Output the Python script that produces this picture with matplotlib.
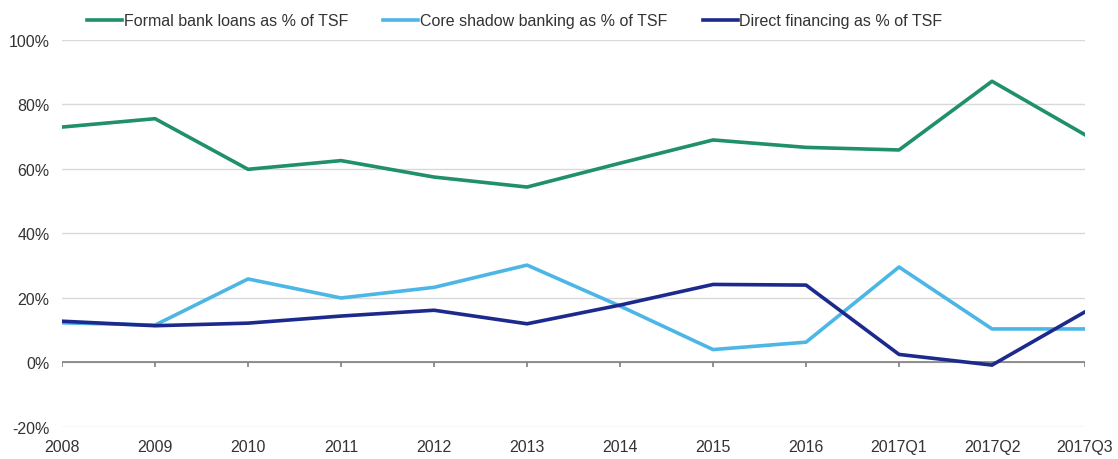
import numpy as np
import matplotlib.pyplot as plt
from matplotlib.ticker import FuncFormatter

plt.rcParams['font.family'] = ['Liberation Sans', 'DejaVu Sans']

periods = ['2008', '2009', '2010', '2011', '2012', '2013', '2014', '2015', '2016',
           '2017Q1', '2017Q2', '2017Q3']

# shares of total social financing, in %
bank_loans = [73.0, 75.6, 59.9, 62.6, 57.5, 54.4, 61.8, 69.0, 66.7, 65.9, 87.2, 70.6]
shadow_banking = [12.3, 11.6, 25.9, 20.0, 23.3, 30.2, 17.5, 4.0, 6.3, 29.6, 10.4, 10.4]
direct_financing = [12.8, 11.4, 12.2, 14.4, 16.2, 12.0, 17.8, 24.2, 24.0, 2.5, -0.8, 15.7]

green = '#1f9068'
light_blue = '#4cb6e6'
navy = '#1b2a8c'

fig = plt.figure(figsize=(11.18, 4.6), dpi=100)
ax = fig.add_axes([0.0555, 0.0696, 0.915, 0.8413])

x = np.arange(len(periods))
ax.plot(x, bank_loans, color=green, lw=2.6, label='Formal bank loans as % of TSF')
ax.plot(x, shadow_banking, color=light_blue, lw=2.6, label='Core shadow banking as % of TSF')
ax.plot(x, direct_financing, color=navy, lw=2.6, label='Direct financing as % of TSF')

ax.set_xlim(0, len(periods) - 1)
ax.set_ylim(-20, 100)
ax.set_yticks(np.arange(-20, 101, 20))
ax.yaxis.set_major_formatter(FuncFormatter(lambda v, p: f'{v:.0f}%'))
ax.grid(axis='y', color='#d9d9d9', lw=1)
ax.set_axisbelow(True)
for s in ax.spines.values():
    s.set_visible(False)

# zero line with small downward ticks at each period
ax.axhline(0, color='#808080', lw=1.2, zorder=1)
ax.vlines(x, -1.4, 0, color='#808080', lw=1.2, zorder=1)

ax.set_xticks(x)
ax.set_xticklabels(periods)
ax.tick_params(axis='both', length=0, labelsize=11.5, colors='#333333')
ax.tick_params(axis='x', pad=9)
ax.tick_params(axis='y', pad=9)

fig.legend(loc='upper left', bbox_to_anchor=(0.065, 1.0), ncol=3, frameon=False,
           fontsize=11.5, handlelength=2.2, handletextpad=0.1, columnspacing=2.2,
           labelcolor='#333333')

fig.savefig('out.png', dpi=100)
